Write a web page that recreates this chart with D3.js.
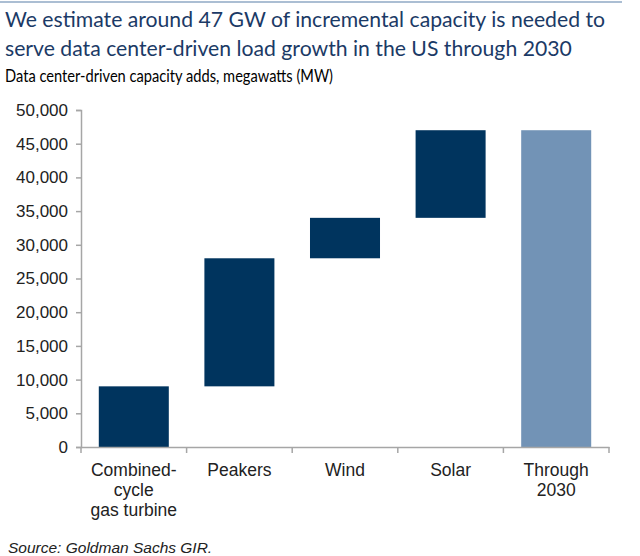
<!DOCTYPE html>
<html>
<head>
<meta charset="utf-8">
<script src="https://cdn.jsdelivr.net/npm/d3@7"></script>
<style>
  body { margin: 0; background: #fff; }
  svg { display: block; }
</style>
</head>
<body>
<svg id="chart" width="640" height="556"></svg>
<script>
const categories = ["Combined-cycle gas turbine", "Peakers", "Wind", "Solar", "Through 2030"];
const categoryLines = [["Combined-", "cycle", "gas turbine"], ["Peakers"], ["Wind"], ["Solar"], ["Through", "2030"]];
const starts = [0, 9000, 28000, 34000, 0];
const ends = [9000, 28000, 34000, 47000, 47000];
const isTotal = [false, false, false, false, true];
const yTicks = [0, 5000, 10000, 15000, 20000, 25000, 30000, 35000, 40000, 45000, 50000];

const svg = d3.select("#chart");

// top rule
svg.append("line").attr("x1", 0).attr("x2", 622).attr("y1", 2).attr("y2", 2)
  .attr("stroke", "#8fa8c4").attr("stroke-width", 1.5);

function fitText(sel, target) {
  const w = sel.node().getComputedTextLength();
  const fs = parseFloat(sel.attr("font-size"));
  sel.attr("font-size", (fs * target / w).toFixed(2));
}

const tFont = "Lato, 'Open Sans', sans-serif";
const t1 = svg.append("text").attr("x", 5).attr("y", 27).attr("font-family", tFont)
  .attr("font-size", 22).attr("fill", "#1b3a66")
  .text("We estimate around 47 GW of incremental capacity is needed to");
fitText(t1, 600);
svg.append("text").attr("x", 5).attr("y", 56).attr("font-family", tFont)
  .attr("font-size", t1.attr("font-size")).attr("fill", "#1b3a66")
  .text("serve data center-driven load growth in the US through 2030");
svg.append("text").attr("x", 5).attr("y", 82).attr("font-family", tFont)
  .attr("font-size", 17).attr("fill", "#000")
  .attr("textLength", 328).attr("lengthAdjust", "spacingAndGlyphs")
  .text("Data center-driven capacity adds, megawatts (MW)");

const x = d3.scaleBand().domain(categories).range([81, 609]).paddingInner(0.337).paddingOuter(0.1685);
const y = d3.scaleLinear().domain([0, 50000]).range([447, 110]);

const axisColor = "#a6a6a6";
const lblFont = "'Liberation Sans', Arial, sans-serif";

// bars
svg.append("g").selectAll("rect").data(categories).join("rect")
  .attr("x", d => x(d))
  .attr("width", x.bandwidth())
  .attr("y", (d, i) => y(ends[i]))
  .attr("height", (d, i) => y(starts[i]) - y(ends[i]))
  .attr("fill", (d, i) => isTotal[i] ? "#7293b6" : "#00345e");

// y axis
const yAxis = svg.append("g").attr("transform", "translate(81,0)")
  .call(d3.axisLeft(y).tickValues(yTicks).tickFormat(d3.format(",")).tickSize(5).tickPadding(8));
yAxis.select(".domain").attr("stroke", axisColor).attr("stroke-width", 1.5);
yAxis.selectAll(".tick line").attr("stroke", axisColor).attr("stroke-width", 1.5);
yAxis.selectAll(".tick text").attr("font-family", lblFont).attr("font-size", 17).attr("fill", "#222");

// x axis
const xAxis = svg.append("g").attr("transform", "translate(0,447)")
  .call(d3.axisBottom(x).tickSize(0).tickFormat(""));
xAxis.select(".domain").attr("stroke", axisColor).attr("stroke-width", 1.5);
const bounds = categories.map(c => x(c) - x.step() * x.paddingInner() / 2).concat([609]);
bounds[0] = 81;
xAxis.append("g").selectAll("line").data(bounds).join("line")
  .attr("x1", d => d).attr("x2", d => d).attr("y1", 0).attr("y2", 6)
  .attr("stroke", axisColor).attr("stroke-width", 1.5);

// category labels
const lbl = svg.append("g");
categories.forEach((c, i) => {
  const cx = x(c) + x.bandwidth() / 2;
  const t = lbl.append("text").attr("x", cx).attr("y", 476)
    .attr("text-anchor", "middle").attr("font-family", lblFont).attr("font-size", 17.5).attr("fill", "#222");
  categoryLines[i].forEach((ln, j) => {
    t.append("tspan").attr("x", cx).attr("dy", j === 0 ? 0 : 20).text(ln);
  });
});

// source
svg.append("text").attr("x", 8).attr("y", 553).attr("font-family", lblFont)
  .attr("font-size", 15.5).attr("font-style", "italic").attr("fill", "#222")
  .text("Source: Goldman Sachs GIR.");
</script>
</body>
</html>
